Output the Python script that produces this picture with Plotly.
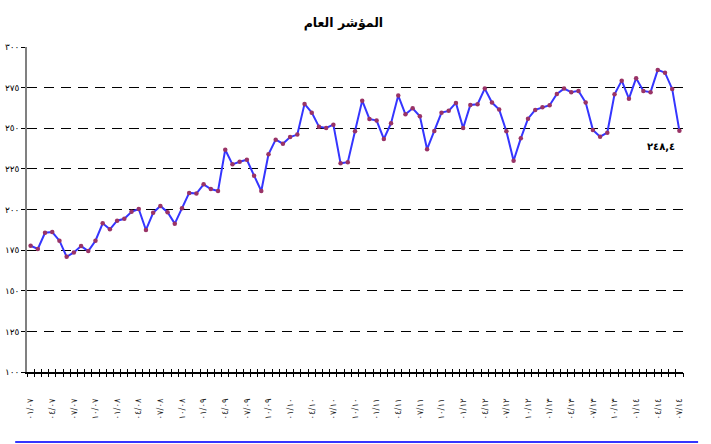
import plotly.graph_objects as go
import pandas as pd

AR = str.maketrans("0123456789.", "٠١٢٣٤٥٦٧٨٩,")

# Monthly categories: Jan 2007 .. Jul 2014 (MM/YY, Arabic-Indic digits)
months = pd.date_range("2007-01-01", "2014-07-01", freq="MS")
month_labels = [d.strftime("%m/%y").translate(AR) for d in months]

index_values = [
    177.7, 175.7, 185.7, 186.1, 180.8, 170.9, 173.6, 177.5, 174.4, 180.8,
    191.5, 187.8, 193.1, 194.3, 198.6, 200.3, 187.4, 198.0, 202.2, 198.3,
    191.3, 200.7, 210.2, 209.8, 215.5, 212.6, 211.4, 236.8, 227.8, 229.4,
    230.6, 220.8, 211.4, 234.0, 243.0, 240.5, 244.6, 246.1, 265.0, 259.6,
    251.0, 250.2, 252.2, 228.4, 229.1, 248.2, 267.0, 255.7, 254.7, 243.4,
    253.1, 270.1, 258.6, 262.3, 257.4, 237.1, 248.3, 259.6, 260.7, 265.6,
    250.1, 264.3, 264.8, 274.4, 265.8, 261.5, 248.2, 230.0, 243.8, 255.9,
    261.3, 262.9, 264.2, 271.1, 274.4, 272.2, 273.0, 265.8, 249.0, 244.8,
    247.3, 270.9, 279.3, 268.2, 280.8, 273.0, 272.2, 285.9, 284.2, 274.2,
    248.4,
]

y_ticks = [100, 125, 150, 175, 200, 225, 250, 275, 300]
y_ticktext = [str(v).translate(AR) for v in y_ticks]
x_tickvals = month_labels[::3]

title_text = "المؤشر العام"
FONT = "DejaVu Sans"

fig = go.Figure()
fig.add_trace(go.Scatter(
    x=month_labels, y=index_values, mode="lines+markers",
    line=dict(color="#3535ff", width=2),
    marker=dict(color="#993366", size=4.5, symbol="circle"),
    showlegend=False, hoverinfo="skip",
))
# empty helper traces so the tick-only overlay axes get drawn
for ax in ("x2", "x3"):
    fig.add_trace(go.Scatter(x=[], y=[], xaxis=ax, yaxis="y",
                             showlegend=False, hoverinfo="skip"))

n = len(month_labels)
common_tick_axis = dict(
    overlaying="x", anchor="y", type="linear", range=[-0.5, n - 0.5],
    tickmode="linear", tick0=-0.5, dtick=1, tickcolor="black", tickwidth=1,
    showticklabels=False, showgrid=False, showline=False, zeroline=False,
    automargin=False, side="bottom",
)

fig.update_layout(
    width=711, height=444,
    margin=dict(l=27, r=28, t=47, b=72, autoexpand=False),
    paper_bgcolor="white", plot_bgcolor="white",
    font=dict(family=FONT, color="black"),
    title=dict(text="<b>" + title_text + "</b>", x=0.483, xanchor="center",
               y=0.95, yanchor="middle", font=dict(family=FONT, size=12.5, color="black")),
    xaxis=dict(
        type="category", range=[-0.5, n - 0.5], automargin=False,
        tickmode="array", tickvals=x_tickvals, ticktext=x_tickvals,
        tickangle=-90, ticks="", tickfont=dict(family=FONT, size=8.5, color="#222"),
        ticklabelstandoff=21,
        showline=True, linecolor="black", linewidth=2,
        showgrid=False, zeroline=False,
    ),
    xaxis2=dict(ticks="outside", ticklen=4, **common_tick_axis),
    xaxis3=dict(ticks="inside", ticklen=3, **common_tick_axis),
    yaxis=dict(
        range=[100, 300], tickmode="array", tickvals=y_ticks, ticktext=y_ticktext,
        ticks="outside", ticklen=4, tickcolor="black", automargin=False,
        tickfont=dict(family=FONT, size=9, color="black"),
        showline=True, linecolor="#808080", linewidth=1.5,
        showgrid=True, gridcolor="black", gridwidth=1, griddash="10px,7px",
        zeroline=False,
    ),
    shapes=[dict(type="line", xref="paper", yref="paper",
                 x0=-0.018, x1=1.023, y0=-0.215, y1=-0.215,
                 line=dict(color="#3535ff", width=2))],
    annotations=[dict(
        x=month_labels[-1], y=index_values[-1], xref="x", yref="y",
        text="<b>" + f"{index_values[-1]:.1f}".translate(AR) + "</b>",
        showarrow=False, xshift=-18, yshift=-16,
        font=dict(family=FONT, size=10, color="black"),
    )],
)

fig.write_html(
    "out.html",
    config={"displayModeBar": False},
    post_script="document.body.style.margin='0';document.body.style.overflow='hidden';",
)
